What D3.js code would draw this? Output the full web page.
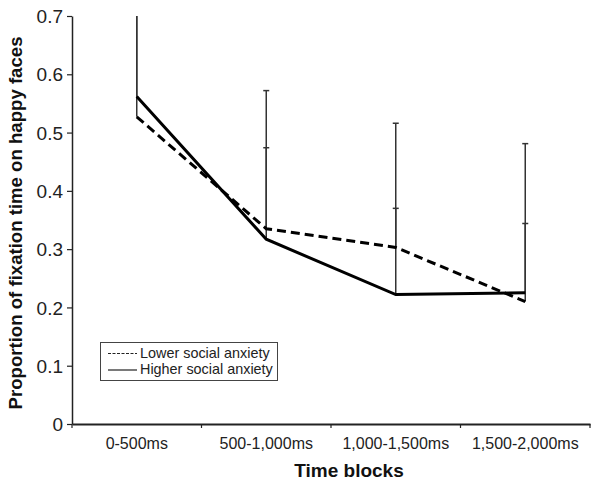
<!DOCTYPE html>
<html><head><meta charset="utf-8">
<script src="https://cdn.jsdelivr.net/npm/d3@7"></script>
<style>body{margin:0;background:#fff}</style>
</head><body>
<script>
const categories = ["0-500ms","500-1,000ms","1,000-1,500ms","1,500-2,000ms"];
const lowerAnxiety = [0.527, 0.335, 0.303, 0.210];
const higherAnxiety = [0.562, 0.317, 0.222, 0.225];
const lowerUpperErr = [0.76, 0.572, 0.516, 0.481];
const higherUpperErr = [0.78, 0.474, 0.370, 0.344];
const yTicks = [0, 0.1, 0.2, 0.3, 0.4, 0.5, 0.6, 0.7];

const W = 600, H = 485;
const m = {left: 72, right: 10, top: 16, bottom: 61};
const svg = d3.select("body").append("svg").attr("width", W).attr("height", H);
const x = d3.scaleBand().domain(categories).range([m.left, 590]);
const y = d3.scaleLinear().domain([0, 0.7]).range([H - m.bottom, m.top]);
const cx = c => x(c) + x.bandwidth() / 2;

svg.append("defs").append("clipPath").attr("id", "plot")
  .append("rect").attr("x", m.left).attr("y", y(0.7)).attr("width", 590 - m.left).attr("height", y(0) - y(0.7));

const font = "Arial, 'Liberation Sans', sans-serif";

// Y axis
const ya = svg.append("g").attr("transform", `translate(${m.left},0)`)
  .call(d3.axisLeft(y).tickValues(yTicks).tickSize(5).tickSizeOuter(0).tickFormat(d => d === 0 ? "0" : d3.format(".1f")(d)));
ya.select(".domain").attr("stroke", "#222").attr("stroke-width", 1.5);
ya.selectAll(".tick line").attr("stroke", "#222").attr("stroke-width", 1.2);
ya.selectAll(".tick text").attr("font-family", font).attr("font-size", 19).attr("fill", "#222").attr("x", -9).attr("dy", "0.35em");

// X axis
const xa = svg.append("g").attr("transform", `translate(0,${y(0)})`)
  .call(d3.axisBottom(x).tickSize(0).tickSizeOuter(0));
xa.select(".domain").attr("stroke", "#222").attr("stroke-width", 2);
xa.selectAll(".tick text").attr("font-family", font).attr("font-size", 16).attr("fill", "#222").attr("y", 25).attr("dy", 0);
// boundary ticks
const bounds = categories.map(c => x(c)).concat([x(categories[categories.length-1]) + x.bandwidth()]);
xa.selectAll(".btick").data(bounds).enter().append("line").attr("class","btick")
  .attr("x1", d => d).attr("x2", d => d).attr("y1", 0).attr("y2", 4)
  .attr("stroke", "#222").attr("stroke-width", 1.2);

// Error bars
const g = svg.append("g").attr("clip-path", "url(#plot)");
function errBars(vals, errs) {
  categories.forEach((c, i) => {
    g.append("line").attr("x1", cx(c)).attr("x2", cx(c)).attr("y1", y(vals[i])).attr("y2", y(errs[i]))
      .attr("stroke", "#333").attr("stroke-width", 1.5);
    g.append("line").attr("x1", cx(c) - 3).attr("x2", cx(c) + 3).attr("y1", y(errs[i])).attr("y2", y(errs[i]))
      .attr("stroke", "#333").attr("stroke-width", 1.5);
  });
}
errBars(lowerAnxiety, lowerUpperErr);
errBars(higherAnxiety, higherUpperErr);

const line = d3.line().x((d, i) => cx(categories[i])).y(d => y(d));
svg.append("path").datum(lowerAnxiety).attr("d", line).attr("fill", "none")
  .attr("stroke", "#000").attr("stroke-width", 3).attr("stroke-dasharray", "9,5");
svg.append("path").datum(higherAnxiety).attr("d", line).attr("fill", "none")
  .attr("stroke", "#000").attr("stroke-width", 3);

// Titles
svg.append("text").attr("x", 349).attr("y", 477).attr("text-anchor", "middle")
  .attr("font-family", font).attr("font-weight", "bold").attr("font-size", 19).attr("fill", "#111").text("Time blocks");
svg.append("text").attr("transform", `translate(22,223) rotate(-90)`)
  .attr("text-anchor", "middle").attr("font-family", font).attr("font-weight", "bold").attr("font-size", 18.6)
  .attr("fill", "#111").text("Proportion of fixation time on happy faces");

// Legend
const lg = svg.append("g");
lg.append("rect").attr("x", 100.5).attr("y", 342.5).attr("width", 177).attr("height", 38)
  .attr("fill", "#fff").attr("stroke", "#444").attr("stroke-width", 1);
const items = [{t: "Lower social anxiety", dash: "3,1.5"}, {t: "Higher social anxiety", dash: null}];
items.forEach((it, i) => {
  const yy = 353.5 + i * 16.5;
  lg.append("line").attr("x1", 108).attr("x2", 137).attr("y1", yy).attr("y2", yy)
    .attr("stroke", "#222").attr("stroke-width", 1.2).attr("stroke-dasharray", it.dash);
  lg.append("text").attr("x", 140).attr("y", yy + 4).attr("font-family", font).attr("font-size", 14.4)
    .attr("fill", "#222").text(it.t);
});
</script>
</body></html>
